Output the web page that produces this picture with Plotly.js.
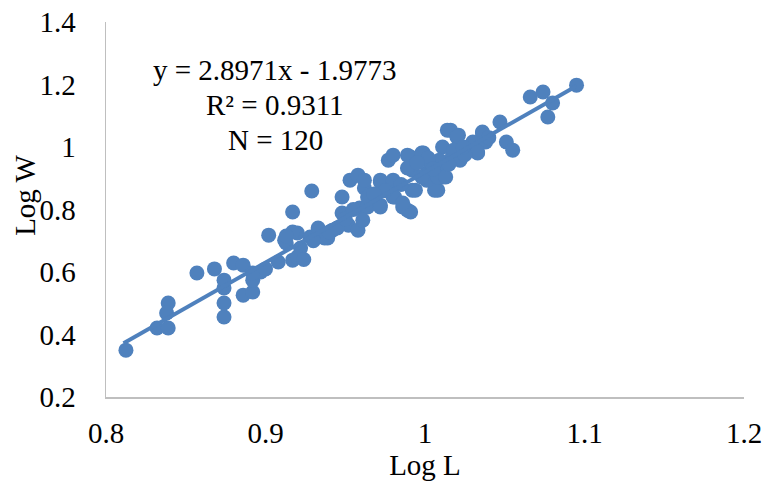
<!DOCTYPE html>
<html>
<head>
<meta charset="utf-8">
<script src="https://cdn.plot.ly/plotly-3.0.1.min.js"></script>
<style>html,body{margin:0;padding:0;background:#fff;}#chart{width:763px;height:482px;}</style>
</head>
<body>
<div id="chart"></div>
<script>
// Log L values (x)
const logL = [
  0.8125, 0.832, 0.839, 0.839, 0.838, 0.857, 0.868, 0.874, 0.874, 0.874,
  0.874, 0.880, 0.886, 0.886, 0.892, 0.892, 0.897, 0.892, 0.902, 0.908,
  0.913, 0.917, 0.920, 0.917, 0.929, 0.917, 0.912, 0.922, 0.920, 0.928,
  0.933, 0.939, 0.942, 0.948, 0.948, 0.952, 0.958, 0.953, 0.958, 0.962,
  0.959, 0.964, 0.972, 0.972, 0.980, 0.981, 0.991, 0.986, 0.977, 0.992,
  1.008, 1.001, 0.992, 1.009, 0.991, 0.999, 0.980, 0.989, 0.998, 0.989,
  0.994, 1.006, 1.011, 1.016, 1.021, 1.011, 1.017, 1.022, 1.028, 1.033,
  1.036, 1.038, 1.047, 1.051, 1.055, 0.962, 0.972, 0.980, 0.964, 0.972,
  0.980, 0.989, 0.986, 0.961, 1.001, 1.008, 0.998, 1.003, 1.009, 1.095,
  1.066, 1.074, 1.080, 1.077, 1.036, 1.030, 1.033, 1.014, 1.020, 1.013,
  0.937, 0.940, 0.945, 0.950, 0.930, 0.924, 0.913, 0.900, 1.002, 1.018,
  1.025, 0.995, 1.005, 1.015, 0.985, 0.975, 0.968, 0.955, 1.040, 1.024
];
// Log W values (y)
const logW = [
  0.350, 0.421, 0.421, 0.501, 0.469, 0.597, 0.610, 0.456, 0.501, 0.549,
  0.574, 0.629, 0.622, 0.526, 0.536, 0.574, 0.600, 0.597, 0.718, 0.632,
  0.693, 0.638, 0.725, 0.792, 0.859, 0.728, 0.702, 0.677, 0.648, 0.712,
  0.741, 0.709, 0.734, 0.840, 0.789, 0.750, 0.734, 0.894, 0.910, 0.869,
  0.805, 0.808, 0.888, 0.814, 0.888, 0.840, 0.792, 0.808, 0.958, 0.862,
  0.862, 0.917, 0.926, 0.936, 0.968, 0.981, 0.974, 0.974, 0.981, 0.933,
  0.862, 0.862, 0.904, 1.054, 1.038, 1.000, 0.968, 0.958, 0.990, 0.981,
  1.045, 1.016, 1.080, 1.016, 0.990, 0.894, 0.894, 0.894, 0.840, 0.808,
  0.840, 0.798, 0.821, 0.766, 0.894, 0.904, 0.904, 0.949, 0.958, 1.198,
  1.160, 1.176, 1.141, 1.096, 1.048, 1.016, 0.984, 1.054, 1.032, 0.904,
  0.709, 0.728, 0.741, 0.770, 0.700, 0.640, 0.715, 0.610, 0.965, 0.990,
  0.975, 0.950, 0.930, 0.945, 0.880, 0.860, 0.850, 0.800, 1.030, 1.000
];
// Regression shown on chart
const slope = 2.8971;
const intercept = -1.9773;
const rSquared = 0.9311;
const nCount = 120;
const trendX = [0.811, 1.095];
const trendY = trendX.map(v => slope * v + intercept);

const xTicks = [0.8, 0.9, 1, 1.1, 1.2];
const yTicks = [0.2, 0.4, 0.6, 0.8, 1, 1.2, 1.4];
const xTitle = 'Log L';
const yTitle = 'Log W';

const blue = '#4F81BD';
const font = {family: '"Liberation Serif", "Times New Roman", serif', size: 29, color: '#000'};

const data = [
  {x: logL, y: logW, type: 'scatter', mode: 'markers',
   marker: {color: blue, size: 15, line: {width: 0}}, hoverinfo: 'x+y'},
  {x: trendX, y: trendY, type: 'scatter', mode: 'lines',
   line: {color: blue, width: 4}, hoverinfo: 'skip'}
];

const layout = {
  width: 763, height: 482,
  margin: {l: 106, r: 19, t: 22, b: 85},
  paper_bgcolor: '#fff', plot_bgcolor: '#fff',
  showlegend: false,
  font: font,
  xaxis: {
    range: [0.8, 1.2], tickvals: xTicks, ticktext: xTicks.map(String),
    showgrid: false, zeroline: false, showline: true, linecolor: '#bfbfbf', linewidth: 1.5,
    ticks: '', ticklabelstandoff: 10, tickfont: font,
    title: {text: xTitle, font: font, standoff: 0}
  },
  yaxis: {
    range: [0.2, 1.4], tickvals: yTicks, ticktext: yTicks.map(String),
    showgrid: false, zeroline: false, showline: true, linecolor: '#bfbfbf', linewidth: 1.5,
    ticks: '', ticklabelstandoff: 23, tickfont: font
  },
  annotations: [
    {x: -0.127, y: 0.539, xref: 'paper', yref: 'paper', text: yTitle, textangle: -90,
     showarrow: false, font: font, xanchor: 'center', yanchor: 'middle'},
    {x: 0.906, y: 1.246, xref: 'x', yref: 'y', text: 'y = ' + slope.toFixed(4) + 'x - ' + Math.abs(intercept).toFixed(4),
     showarrow: false, font: font, xanchor: 'center', yanchor: 'middle'},
    {x: 0.906, y: 1.134, xref: 'x', yref: 'y', text: 'R² = ' + rSquared.toFixed(4),
     showarrow: false, font: font, xanchor: 'center', yanchor: 'middle'},
    {x: 0.906, y: 1.024, xref: 'x', yref: 'y', text: 'N = ' + nCount,
     showarrow: false, font: font, xanchor: 'center', yanchor: 'middle'}
  ]
};

Plotly.newPlot('chart', data, layout, {displayModeBar: false, staticPlot: true});
</script>
</body>
</html>
